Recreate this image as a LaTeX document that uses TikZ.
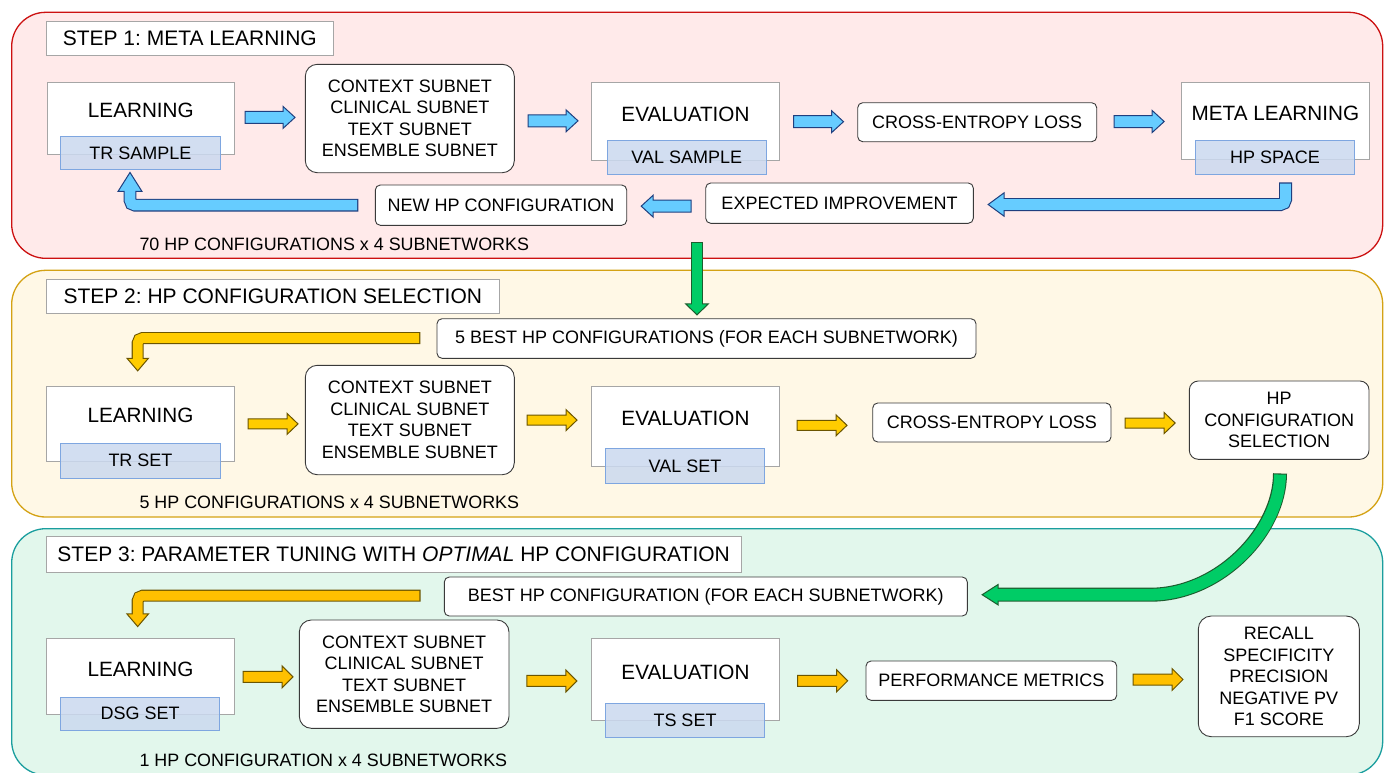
\documentclass[tikz,border=0pt]{standalone}
\usepackage{fontspec}
\setmainfont{Liberation Sans}
\usetikzlibrary{calc}
\frenchspacing
\definecolor{pkfill}{HTML}{FFEAEA}
\definecolor{pkline}{HTML}{CC1111}
\definecolor{crfill}{HTML}{FFF8E6}
\definecolor{crline}{HTML}{D4A214}
\definecolor{mnfill}{HTML}{E2F7EC}
\definecolor{mnline}{HTML}{1A9E9E}
\definecolor{gline}{HTML}{A6A6A6}
\definecolor{dline}{HTML}{3A3A3A}
\definecolor{sfill}{HTML}{CBD9EF}
\definecolor{sline}{HTML}{7EA6E0}
\definecolor{bfill}{HTML}{66CCFF}
\definecolor{bline}{HTML}{1F3F7F}
\definecolor{yfill}{HTML}{FFCC00}
\definecolor{yfillb}{HTML}{FFC000}
\definecolor{yline}{HTML}{6B5500}
\definecolor{grfill}{HTML}{00CC66}
\definecolor{grline}{HTML}{1D5C2E}
\newcommand\fbig{\fontsize{20.7pt}{24pt}\selectfont}
\newcommand\fsm{\fontsize{18pt}{21.5pt}\selectfont}
\newcommand\fbot{\fontsize{17.9pt}{21pt}\selectfont}
\newcommand\fhdr{\fontsize{21pt}{24pt}\selectfont}
\tikzset{
  panel/.style={line width=1.3pt, rounded corners=34pt},
  gbox/.style={draw=gline, fill=white, line width=0.9pt, inner sep=0pt},
  hdr/.style={gbox, font=\fhdr},
  rbox/.style={draw=dline, fill=white, line width=0.9pt, rounded corners=5pt, inner sep=0pt},
  sbox/.style={draw=sline, fill=sfill, fill opacity=0.85, text opacity=1, line width=0.9pt, inner sep=0pt, font=\fsm},
  big/.style={font=\fbig, inner sep=0pt},
  bot/.style={font=\fbot, anchor=base west, inner sep=0pt},
  blueA/.style={fill=bfill, draw=bline, line width=1pt, line join=miter},
  yelA/.style={fill=yfill, draw=yline, line width=1pt, line join=miter},
  yelB/.style={fill=yfillb, draw=yline, line width=1pt, line join=miter},
  grA/.style={fill=grfill, draw=grline, line width=1pt, line join=miter},
  pics/blk/.style n args={3}{code={
    \path[pic actions] (-25,-#1/2) -- (25-#3,-#1/2) -- (25-#3,-#2/2) -- (25,0)
      -- (25-#3,#2/2) -- (25-#3,#1/2) -- (-25,#1/2) -- cycle;}},
  pics/hd/.style n args={2}{code={
    \path[pic actions] (0,0) -- (-#1,-#2/2) -- (-#1,#2/2) -- cycle;}}
}
\begin{document}
\begin{tikzpicture}[x=1pt,y=-1pt]
\useasboundingbox (0,0) rectangle (1389,772);
\fill[white] (0,0) rectangle (1389,772);
% panels
\draw[panel, draw=pkline, fill=pkfill] (11.7,12.3) rectangle (1382.7,258.3);
\draw[panel, draw=crline, fill=crfill] (11.7,270.3) rectangle (1382.7,517);
\draw[panel, draw=mnline, fill=mnfill] (11.7,528.7) rectangle (1382.7,775);

% headers
\node[hdr, minimum width=287pt, minimum height=33.7pt] (H1) at (189.8,38.15) {STEP 1: META LEARNING};
\node[hdr, minimum width=453pt, minimum height=33.7pt] (H2) at (272.8,296.15) {STEP 2: HP CONFIGURATION SELECTION};
\node[hdr, minimum width=694.7pt, minimum height=35.3pt] (H3) at (393.65,554.35) {STEP 3: PARAMETER TUNING WITH \textit{OPTIMAL} HP CONFIGURATION};

% ---------- row 1
\node[gbox, minimum width=187.7pt, minimum height=72pt] (L1) at (140.85,118.3) {};
\node[big] (L1t) at (140.85,110) {LEARNING};
\node[sbox, minimum width=159.6pt, minimum height=33.7pt] (TR1) at (140.5,152.85) {TR SAMPLE};
\node[rbox, rounded corners=12pt, minimum width=209pt, minimum height=108.4pt, align=center, font=\fsm] (S1) at (409.8,118.5) {CONTEXT SUBNET\\CLINICAL SUBNET\\TEXT SUBNET\\ENSEMBLE SUBNET};
\node[gbox, minimum width=187.6pt, minimum height=77.7pt] (E1) at (685.5,121.15) {};
\node[big] (E1t) at (685.5,114) {EVALUATION};
\node[sbox, minimum width=159pt, minimum height=33.7pt] (VS1) at (686.8,157.15) {VAL SAMPLE};
\node[rbox, minimum width=239pt, minimum height=39pt, font=\fsm] (C1) at (977.2,122.2) {CROSS-ENTROPY LOSS};
\node[gbox, minimum width=187.3pt, minimum height=77pt] (M1) at (1275.35,120.8) {};
\node[big] (M1t) at (1275.35,113.3) {META LEARNING};
\node[sbox, minimum width=159.4pt, minimum height=34pt] (HS1) at (1275,157.3) {HP SPACE};
\node[rbox, minimum width=267.6pt, minimum height=40.3pt, font=\fsm] (EI1) at (839.5,203.15) {EXPECTED IMPROVEMENT};
\node[rbox, minimum width=251.4pt, minimum height=40.3pt, font=\fsm] (NH1) at (501,205.15) {NEW HP CONFIGURATION};
\node[bot] (T1) at (139.3,250) {70 HP CONFIGURATIONS x 4 SUBNETWORKS};

\pic[blueA] at ($(L1.east)!0.5!(S1.west)+(0,-1)$) {blk={12}{22}{12}};
\pic[blueA] at ($(S1.east)!0.5!(E1.west)+(0,1)$) {blk={12}{22}{12}};
\pic[blueA] at ($(E1.east)!0.5!(C1.west)$) {blk={12}{22}{12}};
\pic[blueA] at ($(C1.east)!0.5!(M1.west)$) {blk={12}{22}{12}};
\pic[blueA, rotate=180] at ($(EI1.west)!0.5!(NH1.east)+(0,2)$) {blk={12}{22}{12}};

% bent arrow HP SPACE -> EXPECTED IMPROVEMENT
\coordinate (b2s) at ($(HS1.south)+(10.5,7.7)$);
\coordinate (b2t) at ($(EI1.east)+(14.4,1.35)$);
\draw[line width=13pt, draw=bline, rounded corners=5pt, shorten >=15pt] (b2s) |- (b2t);
\pic[blueA, rotate=180] at (b2t) {hd={16}{23.5}};
\draw[line width=10.8pt, draw=bfill, rounded corners=5pt, shorten >=14pt, shorten <=1.1pt] (b2s) |- (b2t);

% bent arrow NEW HP -> TR SAMPLE
\coordinate (b1s) at ($(NH1.west)+(-16.6,0)$);
\coordinate (b1t) at ($(TR1.south)+(-10.5,2.3)$);
\draw[line width=12.8pt, draw=bline, rounded corners=5pt, shorten >=18pt] (b1s) -| (b1t);
\pic[blueA, rotate=90] at (b1t) {hd={19}{24}};
\draw[line width=10.6pt, draw=bfill, rounded corners=5pt, shorten >=17pt, shorten <=1.1pt] (b1s) -| (b1t);

% ---------- row 2
\node[rbox, minimum width=539pt, minimum height=39.6pt, font=\fsm] (P5) at (706.5,338.5) {5 BEST HP CONFIGURATIONS (FOR EACH SUBNETWORK)};
\node[gbox, minimum width=188.4pt, minimum height=75pt] (L2) at (140.5,423.8) {};
\node[big] (L2t) at (140.5,415.7) {LEARNING};
\node[sbox, minimum width=159.6pt, minimum height=34.7pt] (TR2) at (140.5,460.65) {TR SET};
\node[rbox, rounded corners=12pt, minimum width=209pt, minimum height=109.4pt, align=center, font=\fsm] (S2) at (409.8,420) {CONTEXT SUBNET\\CLINICAL SUBNET\\TEXT SUBNET\\ENSEMBLE SUBNET};
\node[gbox, minimum width=187.6pt, minimum height=79.7pt] (E2) at (685.5,426.15) {};
\node[big] (E2t) at (685.5,418.5) {EVALUATION};
\node[sbox, minimum width=159.4pt, minimum height=34.3pt] (VS2) at (685,465.85) {VAL SET};
\node[rbox, minimum width=238.3pt, minimum height=39pt, font=\fsm] (C2) at (991.85,422.5) {CROSS-ENTROPY LOSS};
\node[rbox, rounded corners=9pt, minimum width=179.7pt, minimum height=78.3pt, align=center, font=\fsm] (HC2) at (1279.15,420.15) {HP\\CONFIGURATION\\SELECTION};
\node[bot] (T2) at (139.3,508.7) {5 HP CONFIGURATIONS x 4 SUBNETWORKS};

\pic[yelA] at ($(L2.east)!0.5!(S2.west)+(3,2)$) {blk={10}{21}{11}};
\pic[yelA] at ($(S2.east)!0.5!(E2.west)+(-1,-3)$) {blk={10}{21}{11}};
\pic[yelA] at ($(E2.east)!0.5!(C2.west)+(-4,1)$) {blk={10}{21}{11}};
\pic[yelA] at ($(C2.east)!0.5!(HC2.west)+(0,1.7)$) {blk={10}{21}{11}};

% green straight arrow into 5 BEST
\coordinate (g1s) at ($(P5.north)+(-9.5,-76.4)$);
\coordinate (g1t) at ($(P5.north)+(-9.5,-3.4)$);
\draw[line width=12.6pt, draw=grline, shorten >=10pt] (g1s) -- (g1t);
\pic[grA, rotate=-90] at (g1t) {hd={11}{22.7}};
\draw[line width=10.4pt, draw=grfill, shorten >=9pt, shorten <=1.1pt] (g1s) -- (g1t);

% yellow bent arrow 5 BEST -> LEARNING
\coordinate (y2s) at ($(P5.west)+(-16.3,-0.5)$);
\coordinate (y2t) at ($(L2.north)+(-2.8,-15)$);
\draw[line width=12pt, draw=yline, rounded corners=5pt, shorten >=12pt] (y2s) -| (y2t);
\pic[yelA, rotate=-90] at (y2t) {hd={12.6}{21.5}};
\draw[line width=9.9pt, draw=yfill, rounded corners=5pt, shorten >=11pt, shorten <=1.1pt] (y2s) -| (y2t);

% ---------- row 3
\node[rbox, minimum width=523pt, minimum height=39pt, font=\fsm] (B3) at (705.8,596.5) {BEST HP CONFIGURATION (FOR EACH SUBNETWORK)};
\node[gbox, minimum width=188.4pt, minimum height=76.4pt] (L3) at (140.5,676.5) {};
\node[big] (L3t) at (140.5,669.2) {LEARNING};
\node[sbox, minimum width=159pt, minimum height=33pt] (DS3) at (140.2,713.5) {DSG SET};
\node[rbox, rounded corners=12pt, minimum width=209.7pt, minimum height=108.3pt, align=center, font=\fsm] (S3) at (404.15,674.15) {CONTEXT SUBNET\\CLINICAL SUBNET\\TEXT SUBNET\\ENSEMBLE SUBNET};
\node[gbox, minimum width=187.6pt, minimum height=82pt] (E3) at (685.5,679) {};
\node[big] (E3t) at (685.5,672) {EVALUATION};
\node[sbox, minimum width=159.4pt, minimum height=34pt] (TS3) at (685,720) {TS SET};
\node[rbox, minimum width=250.7pt, minimum height=39.3pt, font=\fsm] (PM3) at (991.35,680.65) {PERFORMANCE METRICS};
\node[rbox, rounded corners=13pt, minimum width=161pt, minimum height=120.7pt, align=center, font=\fsm] (MT3) at (1278.8,676.35) {RECALL\\SPECIFICITY\\PRECISION\\NEGATIVE PV\\F1 SCORE};
\node[bot] (T3) at (139.3,766) {1 HP CONFIGURATION x 4 SUBNETWORKS};

\pic[yelB] at ($(L3.east)!0.5!(S3.west)+(1,1.5)$) {blk={11}{22}{11}};
\pic[yelB] at ($(S3.east)!0.5!(E3.west)+(1.5,4.4)$) {blk={11}{22}{11}};
\pic[yelB] at ($(E3.east)!0.5!(PM3.west)+(0,1)$) {blk={11}{22}{11}};
\pic[yelB] at ($(PM3.east)!0.5!(MT3.west)+(0.5,1)$) {blk={11}{22}{11}};

% yellow bent arrow BEST HP -> LEARNING
\coordinate (y3s) at ($(B3.west)+(-23.3,-0.8)$);
\coordinate (y3t) at ($(L3.north)+(-2.8,-11.3)$);
\draw[line width=12pt, draw=yline, rounded corners=5pt, shorten >=12pt] (y3s) -| (y3t);
\pic[yelB, rotate=-90] at (y3t) {hd={12.6}{21.5}};
\draw[line width=9.9pt, draw=yfillb, rounded corners=5pt, shorten >=11pt, shorten <=1.1pt] (y3s) -| (y3t);

% green curved arrow HP CONFIGURATION SELECTION -> BEST HP
\coordinate (g2s) at ($(HC2.south)+(0.85,13.7)$);
\coordinate (g2t) at ($(B3.east)+(14.4,-1.8)$);
\draw[line width=14pt, draw=grline, shorten >=15pt] (g2s) .. controls ($(g2s)+(0,57)$) and ($(g2t)+(238,0)$) .. ($(g2t)+(168,0)$) -- (g2t);
\pic[grA, rotate=180] at (g2t) {hd={16}{20.5}};
\draw[line width=11.8pt, draw=grfill, shorten >=14pt, shorten <=1.1pt] (g2s) .. controls ($(g2s)+(0,57)$) and ($(g2t)+(238,0)$) .. ($(g2t)+(168,0)$) -- (g2t);
\end{tikzpicture}
\end{document}
